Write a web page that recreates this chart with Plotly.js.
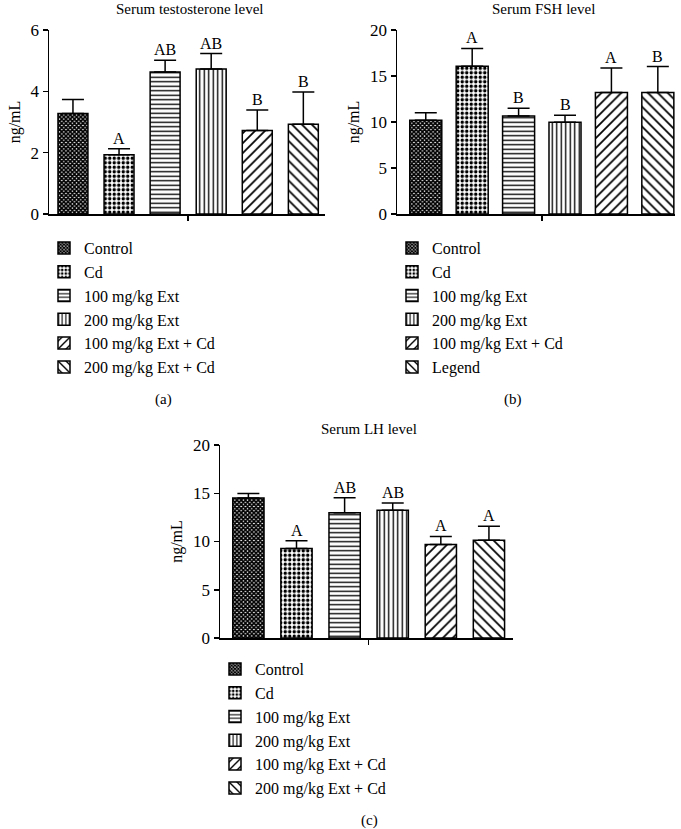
<!DOCTYPE html>
<html><head><meta charset="utf-8">
<script src="https://cdn.plot.ly/plotly-3.0.1.min.js"></script>
<style>html,body{margin:0;padding:0;background:#fff}#chart{width:681px;height:829px}</style>
</head><body><div id="chart"></div>
<script>
// ---- data ----
var groups = ["Control","Cd","100 mg/kg Ext","200 mg/kg Ext","100 mg/kg Ext + Cd","200 mg/kg Ext + Cd"];
var groupsFSH = ["Control","Cd","100 mg/kg Ext","200 mg/kg Ext","100 mg/kg Ext + Cd","Legend"];
var testoMean = [3.28,1.93,4.63,4.73,2.72,2.93];
var testoErr  = [0.45,0.20,0.38,0.50,0.67,1.05];
var testoSig  = ["","A","AB","AB","B","B"];
var fshMean = [10.2,16.05,10.65,9.98,13.22,13.22];
var fshErr  = [0.80,1.95,0.85,0.76,2.65,2.80];
var fshSig  = ["","A","B","B","A","B"];
var lhMean = [14.5,9.27,12.98,13.25,9.69,10.14];
var lhErr  = [0.48,0.80,1.55,0.73,0.83,1.45];
var lhSig  = ["","A","AB","AB","A","A"];
var titles = ["Serum testosterone level","Serum FSH level","Serum LH level"];
var captions = ["(a)","(b)","(c)"];

// ---- styles ----
var W=681,H=829;
var FONT="Liberation Serif, Times New Roman, serif";
var patterns = [
  {shape:"x", size:3, solidity:0.8},
  {shape:".", size:4.5, solidity:0.45},
  {shape:"-", size:4.5, solidity:0.3},
  {shape:"|", size:4.5, solidity:0.3},
  {shape:"/", size:7, solidity:0.25},
  {shape:"\\", size:7, solidity:0.25}
];
var panels = [
  {mean:testoMean, err:testoErr, sig:testoSig, names:groups, xa:"x", ya:"y", leg:"legend",
   xpx:[49,325], ypx:[30,214], xr:[-0.52,5.47], yr:[0,6], dt:2, bw:0.65,
   title:[189,9], cap:[163,399], legpx:[44,231]},
  {mean:fshMean, err:fshErr, sig:fshSig, names:groupsFSH, xa:"x2", ya:"y2", leg:"legend2",
   xpx:[397,675], ypx:[30,214], xr:[-0.62,5.37], yr:[0,20], dt:5, bw:0.69,
   title:[543,9], cap:[513,399], legpx:[392,231]},
  {mean:lhMean, err:lhErr, sig:lhSig, names:groups, xa:"x3", ya:"y3", leg:"legend3",
   xpx:[220,513], ypx:[445,638], xr:[-0.59,5.5], yr:[0,20], dt:5, bw:0.65,
   title:[369,429], cap:[369,820], legpx:[215,652]}
];

var traces=[], ann=[], layout={
  width:W, height:H, margin:{l:0,r:0,t:0,b:0}, paper_bgcolor:"#fff", plot_bgcolor:"#fff",
  showlegend:true, barmode:"overlay", font:{family:FONT, size:16, color:"#000"}
};
panels.forEach(function(p,pi){
  for(var i=0;i<6;i++){
    traces.push({
      type:"bar", x:[i], y:[p.mean[i]], name:p.names[i], width:p.bw,
      xaxis:p.xa, yaxis:p.ya, legend:p.leg,
      marker:{color:"#fff", line:{color:"#000", width:1.5},
        pattern:{shape:patterns[i].shape, size:patterns[i].size, solidity:patterns[i].solidity, fgcolor:"#000", bgcolor:"#fff", fillmode:"replace"}},
      error_y:{type:"data", symmetric:false, array:[p.err[i]], arrayminus:[0], color:"#000", thickness:1.5, width:11},
      hoverinfo:"skip"
    });
    if(p.sig[i]) ann.push({xref:p.xa, yref:p.ya, x:i, y:p.mean[i]+p.err[i], text:p.sig[i], showarrow:false, yanchor:"bottom", yshift:0, font:{size:16}});
  }
  var sfx = pi===0?"":String(pi+1);
  layout["xaxis"+sfx] = {domain:[p.xpx[0]/W, p.xpx[1]/W], range:p.xr, anchor:"y"+sfx,
    showline:true, linecolor:"#000", linewidth:1.5, showgrid:false, zeroline:false,
    tickvals:[2.5], ticktext:[""], ticks:"outside", ticklen:5, tickwidth:1.5, tickcolor:"#000", fixedrange:true};
  layout["yaxis"+sfx] = {domain:[1-p.ypx[1]/H, 1-p.ypx[0]/H], range:p.yr, anchor:"x"+sfx, dtick:p.dt,
    showline:true, linecolor:"#000", linewidth:1.5, showgrid:false, zeroline:false,
    ticks:"outside", ticklen:5, tickwidth:1.5, tickcolor:"#000", tickfont:{size:17},
    title:{text:"ng/mL", font:{size:16}, standoff:6}, fixedrange:true};
  layout[p.leg] = {x:p.legpx[0]/W, y:1-p.legpx[1]/H, xanchor:"left", yanchor:"top",
    bgcolor:"rgba(0,0,0,0)", font:{size:16}, itemclick:false, itemdoubleclick:false};
  ann.push({xref:"paper", yref:"paper", x:p.title[0]/W, y:1-p.title[1]/H, text:titles[pi], showarrow:false, xanchor:"center", yanchor:"middle", font:{size:15}});
  ann.push({xref:"paper", yref:"paper", x:p.cap[0]/W, y:1-p.cap[1]/H, text:captions[pi], showarrow:false, xanchor:"center", yanchor:"middle", font:{size:15}});
});
layout.annotations = ann;
Plotly.newPlot("chart", traces, layout, {displayModeBar:false, staticPlot:true});
</script>
</body></html>
